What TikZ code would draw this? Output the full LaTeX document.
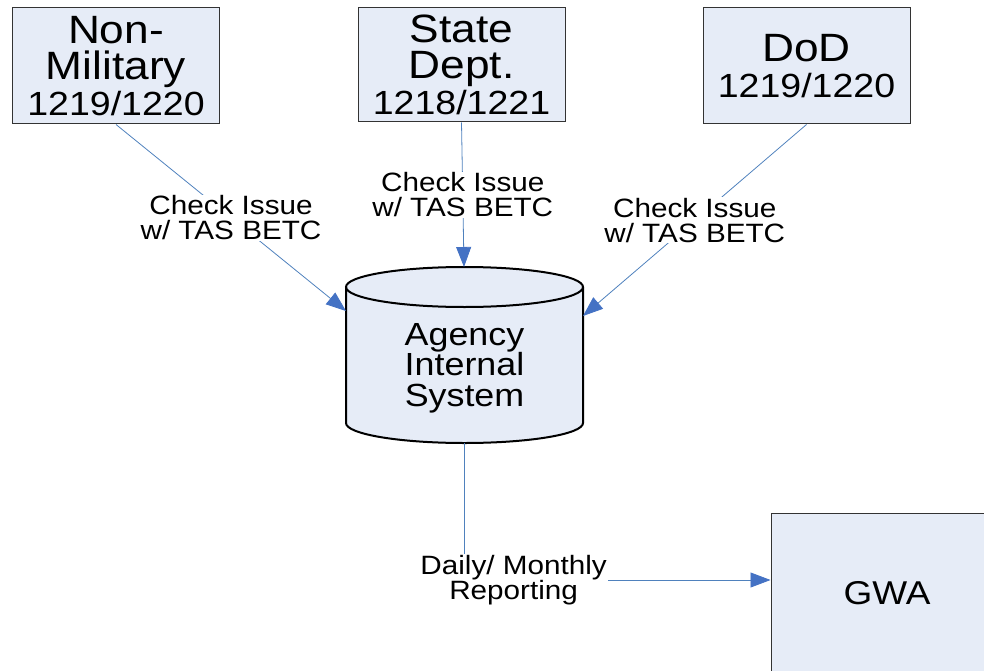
\documentclass[tikz,border=0pt]{standalone}
\usepackage{fontspec}
\setmainfont{Liberation Sans}[FakeStretch=1.12]
\usetikzlibrary{arrows.meta,positioning,calc}
\definecolor{boxfill}{RGB}{230,236,247}
\definecolor{flowblue}{RGB}{79,129,189}
\definecolor{tipblue}{RGB}{68,114,196}
\newcommand{\numsize}{\fontsize{33.5}{36}\selectfont}
\tikzset{
  agencybox/.style={draw=black!80,line width=1pt,fill=boxfill,minimum width=207pt,
    minimum height=116pt,inner sep=0pt,align=center,font=\fontsize{39.5}{36}\selectfont},
  flowline/.style={draw=flowblue,line width=0.8pt,
    -{Triangle[length=20pt,width=15pt,color=tipblue]}},
  flowlabel/.style={fill=white,inner sep=1pt,align=center,font=\fontsize{26.5}{25}\selectfont},
}
\begin{document}
\begin{tikzpicture}[x=1pt,y=-1pt]
\useasboundingbox (0,0) rectangle (984,671);
% source agencies
\node[agencybox] (nonmil) at (116,66) {Non-\\Military\\{\numsize 1219/1220}};
\node[agencybox,minimum height=114pt] (statedept) at (461.5,65) {State\\Dept.\\{\numsize 1218/1221}};
\node[agencybox] (dod) at (806.5,66) {DoD\\{\numsize 1219/1220}};
% internal system (cylinder)
\fill[boxfill] (346,287) -- (346,423) arc[start angle=180,end angle=360,x radius=118.5pt,y radius=20pt]
  -- (583,287) arc[start angle=0,end angle=180,x radius=118.5pt,y radius=20pt] -- cycle;
\draw[line width=2pt] (346,287) -- (346,423) arc[start angle=180,end angle=360,x radius=118.5pt,y radius=20pt]
  -- (583,287);
\draw[line width=2pt] (464.5,287) ellipse[x radius=118.5pt,y radius=20pt];
\node[align=center,font=\fontsize{32}{30.5}\selectfont] (ais) at (464.5,368) {Agency\\Internal\\System};
\coordinate (ais-top) at (464,267);
\coordinate (ais-left) at (346,311);
\coordinate (ais-right) at (583,316);
\coordinate (ais-bottom) at (464,443);
% GWA
\node[agencybox,minimum width=232pt,minimum height=160pt,font=\fontsize{33}{36}\selectfont] (gwa) at (887,593) {GWA};
% flows
\draw[flowline] (nonmil.south) -- node[flowlabel] {Check Issue\\w/ TAS BETC} (ais-left);
\draw[flowline] (statedept.south) -- node[flowlabel] {Check Issue\\w/ TAS BETC} (ais-top);
\draw[flowline] (dod.south) -- node[flowlabel] {Check Issue\\w/ TAS BETC} (ais-right);
\draw[flowline] (ais-bottom) |- node[flowlabel,pos=0.581] {Daily/ Monthly\\Reporting} ([yshift=13pt]gwa.west);
\end{tikzpicture}
\end{document}
